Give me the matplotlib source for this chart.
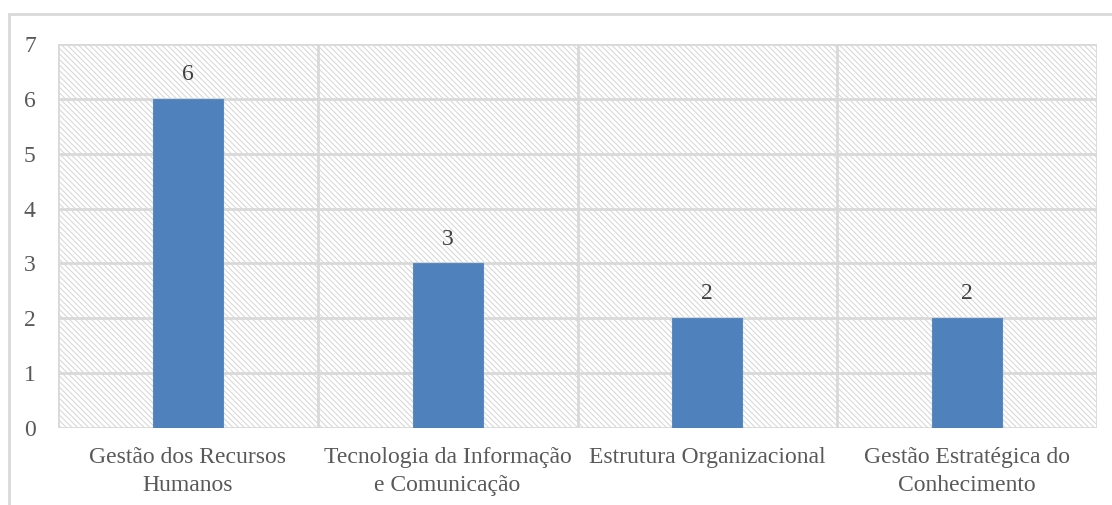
import matplotlib
matplotlib.use("Agg")
import matplotlib.pyplot as plt
from matplotlib.patches import Rectangle

categories = ["Gestão dos Recursos\nHumanos",
              "Tecnologia da Informação\ne Comunicação",
              "Estrutura Organizacional",
              "Gestão Estratégica do\nConhecimento"]
values = [6, 3, 2, 2]
y_ticks = [0, 1, 2, 3, 4, 5, 6, 7]

plt.rcParams['font.family'] = ['Liberation Serif', 'DejaVu Serif']
plt.rcParams['hatch.linewidth'] = 0.7

W, H = 1112, 505
fig = plt.figure(figsize=(W / 100, H / 100), dpi=100)
ax = fig.add_axes([58 / W, 1 - 428 / H, (1097 - 58) / W, (428 - 44) / H])

grid_c = '#d9d9d9'
text_c = '#595959'
fs = 17

# hatched background
ax.add_patch(Rectangle((0, 0), 1, 1, transform=ax.transAxes, facecolor='white',
                       edgecolor='#d4d4d4', hatch='\\\\\\\\\\\\', linewidth=0, zorder=0))

x = list(range(len(categories)))
ax.set_xlim(-0.5, len(categories) - 0.5)
ax.set_ylim(0, 7)

for t in y_ticks:
    ax.axhline(t, color=grid_c, lw=2, zorder=1)
for b in [i - 0.5 for i in range(len(categories) + 1)]:
    ax.axvline(b, color=grid_c, lw=2, zorder=1)

bars = ax.bar(x, values, width=0.27, color='#4f81bd', edgecolor='#5a8ac4',
              linewidth=0.8, zorder=3)
for xi, v in zip(x, values):
    ax.annotate(str(v), (xi, v), xytext=(0, 10), textcoords='offset points',
                ha='center', va='bottom', fontsize=fs, color='#404040')

for s in ax.spines.values():
    s.set_visible(False)
ax.set_yticks(y_ticks)
ax.set_yticklabels([str(t) for t in y_ticks])
ax.set_xticks(x)
ax.set_xticklabels(categories, linespacing=1.4)
ax.tick_params(axis='both', length=0, labelsize=fs, labelcolor=text_c)
ax.tick_params(axis='y', pad=16)
ax.tick_params(axis='x', pad=14)

# outer chart border (partially out of frame)
fig.add_artist(Rectangle((8.5 / W, -0.1), 1.2, 1.1 - 14 / H, transform=fig.transFigure,
                         fill=False, edgecolor=grid_c, linewidth=2))

fig.savefig('out.png', dpi=100)
